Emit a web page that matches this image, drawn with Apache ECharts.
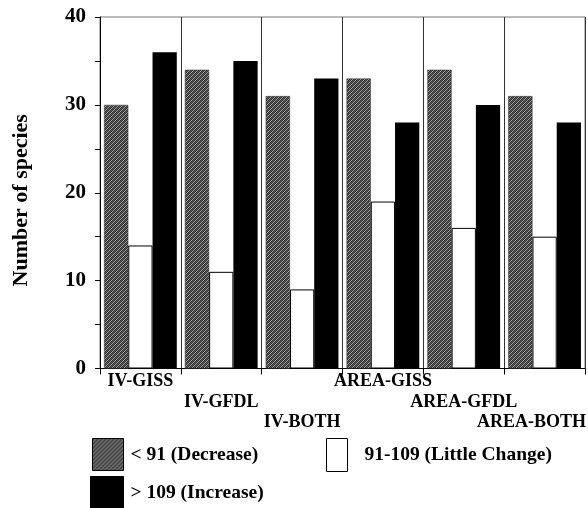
<!DOCTYPE html>
<html>
<head>
<meta charset="utf-8">
<script src="https://cdn.jsdelivr.net/npm/echarts@6/dist/echarts.min.js"></script>
<style>
html,body{margin:0;padding:0;background:#fff;}
#chart{width:588px;height:508px;}
</style>
</head>
<body>
<div id="chart"></div>
<script>
const categories = ['IV-GISS', 'IV-GFDL', 'IV-BOTH', 'AREA-GISS', 'AREA-GFDL', 'AREA-BOTH'];
const decreaseValues = [30, 34, 31, 33, 34, 31];
const littleChangeValues = [14, 11, 9, 19, 16, 15];
const increaseValues = [36, 35, 33, 28, 30, 28];
const seriesNames = ['< 91 (Decrease)', '91-109 (Little Change)', '> 109 (Increase)'];
const yTickLabels = ['0', '10', '20', '30', '40'];

function makeHatch() {
  const c = document.createElement('canvas');
  c.width = 4; c.height = 4;
  const ctx = c.getContext('2d');
  ctx.fillStyle = '#2e2e2e';
  ctx.fillRect(0, 0, 4, 4);
  ctx.fillStyle = '#a8a8a8';
  for (let i = 0; i < 4; i++) ctx.fillRect(i, 3 - i, 1, 1);
  ctx.fillStyle = '#5c5c5c';
  for (let i = 0; i < 4; i++) ctx.fillRect(i, (5 - i) % 4, 1, 1);
  return c;
}
const hatch = { image: makeHatch(), repeat: 'repeat' };

const FONT = 'Liberation Serif';
const chart = echarts.init(document.getElementById('chart'), null, { renderer: 'canvas' });

const legendText = { fontFamily: FONT, fontWeight: 'bold', fontSize: 19.5, color: '#000' };
const tokenStyle = { fontFamily: FONT, fontWeight: 'bold', fontSize: 18, color: '#000', lineHeight: 20.5 };

chart.setOption({
  animation: false,
  backgroundColor: '#fff',
  grid: { left: 100, right: 3, top: 17, bottom: 139.5, outerBoundsMode: 'none', containLabel: false, show: true, borderColor: '#777', borderWidth: 1, backgroundColor: 'transparent' },
  legend: [
    { data: [seriesNames[0]], left: 92, top: 438, padding: 0, itemWidth: 31, itemHeight: 32, icon: 'rect', textStyle: Object.assign({ padding: [2, 0, 0, 2] }, legendText), itemStyle: { borderColor: '#000', borderWidth: 1 } },
    { data: [seriesNames[1]], left: 326, top: 438, padding: 0, itemWidth: 21, itemHeight: 33, icon: 'rect', textStyle: Object.assign({ padding: [2, 0, 0, 12] }, legendText), itemStyle: { borderColor: '#000', borderWidth: 1 } },
    { data: [seriesNames[2]], left: 90, top: 476, padding: 0, itemWidth: 33, itemHeight: 33, icon: 'rect', textStyle: Object.assign({ padding: [2, 0, 0, 2] }, legendText), itemStyle: { borderColor: '#000', borderWidth: 1 } }
  ],
  xAxis: {
    type: 'category',
    data: categories,
    boundaryGap: true,
    axisLine: { lineStyle: { color: '#000', width: 1 } },
    axisTick: { show: true, length: 6, lineStyle: { color: '#000' } },
    splitLine: { show: true, lineStyle: { color: '#333', width: 1 } },
    axisLabel: {
      interval: 0,
      margin: 3,
      color: '#000',
      fontFamily: FONT,
      fontWeight: 'bold',
      fontSize: 18,
      lineHeight: 20.5,
      hideOverlap: false,
      formatter: function (v, i) {
        const lvl = i % 3;
        const tag = (i === categories.length - 1) ? 'last' : 'n';
        return '\n'.repeat(lvl) + '{' + tag + '|' + v + '}';
      },
      rich: {
        n: Object.assign({}, tokenStyle),
        last: Object.assign({ padding: [0, 26, 0, 0] }, tokenStyle)
      }
    }
  },
  yAxis: {
    type: 'value',
    min: 0,
    max: 40,
    interval: 5,
    name: 'Number of species',
    nameLocation: 'middle',
    nameRotate: 90,
    nameGap: 68,
    nameTextStyle: { fontFamily: FONT, fontWeight: 'bold', fontSize: 22, color: '#000', padding: [0, 15, 0, 0] },
    axisLine: { show: true, lineStyle: { color: '#000', width: 1 } },
    axisTick: { show: true, length: 5, lineStyle: { color: '#000' } },
    splitLine: { show: false },
    axisLabel: {
      margin: 14,
      color: '#000',
      fontFamily: FONT,
      fontWeight: 'bold',
      fontSize: 21,
      formatter: function (v) {
        const s = String(v);
        return yTickLabels.indexOf(s) >= 0 ? s : '';
      }
    }
  },
  series: [
    { name: seriesNames[0], type: 'bar', data: decreaseValues, barGap: '0%', barCategoryGap: '10%', itemStyle: { color: hatch, borderColor: '#333', borderWidth: 0.5 } },
    { name: seriesNames[1], type: 'bar', data: littleChangeValues, barGap: '0%', barCategoryGap: '10%', itemStyle: { color: '#fff', borderColor: '#000', borderWidth: 1 } },
    { name: seriesNames[2], type: 'bar', data: increaseValues, barGap: '0%', barCategoryGap: '10%', itemStyle: { color: '#000' } }
  ]
});
</script>
</body>
</html>
